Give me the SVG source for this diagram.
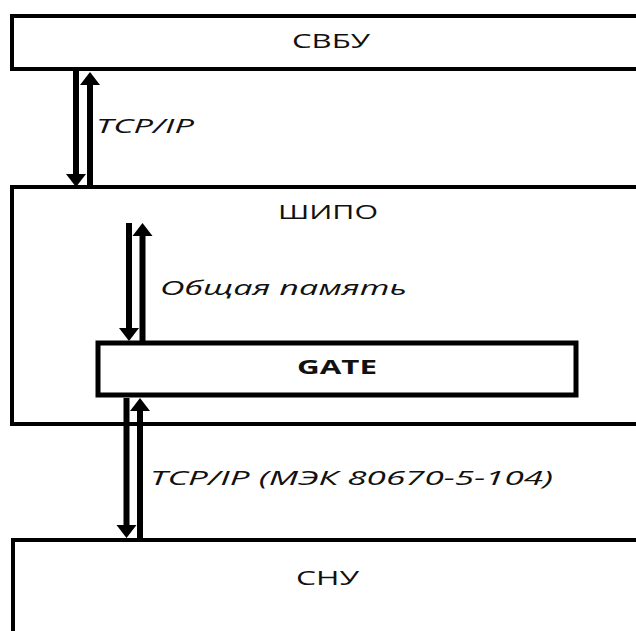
<svg xmlns="http://www.w3.org/2000/svg" width="636" height="631" viewBox="0 0 636 631">
<style>
.box{fill:#fff;stroke:#000;stroke-width:4}
.gate{fill:#fff;stroke:#000;stroke-width:5}
.lbl{font-family:"Open Sans","DejaVu Sans",sans-serif;font-size:20px;fill:#111}
.it{font-style:italic}
.b{font-weight:bold}
.arr{stroke:#000;stroke-width:6;fill:none;marker-end:url(#ah)}
</style>
<defs>
<marker id="ah" markerUnits="userSpaceOnUse" markerWidth="14" markerHeight="22" refX="0" refY="10" orient="auto" viewBox="0 0 14 22" overflow="visible">
<path d="M0,0 L13,10 L0,20 Z" fill="#000"/>
</marker>
</defs>
<rect width="636" height="631" fill="#fff"/>
<g id="svbu">
<rect class="box" x="12" y="16" width="700" height="53"/>
<text class="lbl" x="292" y="48" textLength="78" lengthAdjust="spacingAndGlyphs">СВБУ</text>
</g>
<g id="shipo">
<rect class="box" x="12" y="187" width="700" height="237"/>
<text class="lbl" x="278" y="219" textLength="100" lengthAdjust="spacingAndGlyphs">ШИПО</text>
</g>
<g id="gate">
<rect class="gate" x="98" y="343" width="478" height="52"/>
<text class="lbl b" x="297" y="374" textLength="80" lengthAdjust="spacingAndGlyphs">GATE</text>
</g>
<g id="snu">
<rect class="box" x="13" y="540" width="700" height="200"/>
<text class="lbl" x="296" y="585" textLength="63" lengthAdjust="spacingAndGlyphs">СНУ</text>
</g>
<g id="connectors">
<line class="arr" x1="76" y1="71" x2="76" y2="174"/>
<line class="arr" x1="90" y1="186" x2="90" y2="85"/>
<text class="lbl it" x="96" y="133" textLength="98" lengthAdjust="spacingAndGlyphs">TCP/IP</text>
<line class="arr" x1="129" y1="223" x2="129" y2="328"/>
<line class="arr" x1="142.5" y1="342" x2="142.5" y2="236"/>
<text class="lbl it" x="160" y="295" textLength="247" lengthAdjust="spacingAndGlyphs">Общая память</text>
<line class="arr" x1="126.5" y1="398" x2="126.5" y2="525"/>
<line class="arr" x1="140" y1="539" x2="140" y2="411"/>
<text class="lbl it" x="150" y="485" textLength="403" lengthAdjust="spacingAndGlyphs">TCP/IP (МЭК 80670-5-104)</text>
</g>
</svg>
